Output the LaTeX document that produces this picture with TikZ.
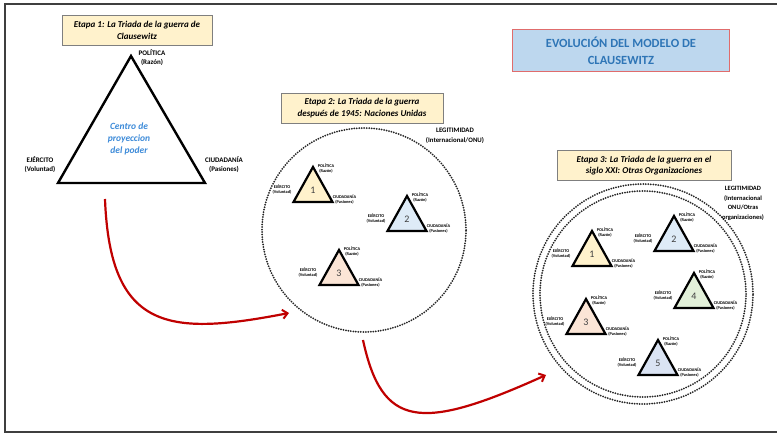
\documentclass[tikz,border=0pt]{standalone}
\usepackage{fontspec}
\setmainfont{Carlito}
\usetikzlibrary{arrows.meta}
\definecolor{boxyellow}{HTML}{FFF2CC}
\definecolor{boxedge}{HTML}{7F7F7F}
\definecolor{titlefill}{HTML}{BDD7EE}
\definecolor{titleedge}{HTML}{E06C6C}
\definecolor{titletext}{HTML}{2E75B6}
\definecolor{centretext}{HTML}{3D8BD9}
\definecolor{tyellow}{HTML}{FFF2CC}
\definecolor{tblue}{HTML}{DEEBF7}
\definecolor{tpeach}{HTML}{FBE5D6}
\definecolor{tgreen}{HTML}{E2F0D9}
\definecolor{tblue2}{HTML}{DAE3F3}
\definecolor{arrowred}{HTML}{C00000}
\definecolor{framegray}{HTML}{3F3F3F}
\tikzset{
  stagebox/.style={draw=boxedge, line width=0.9pt, fill=boxyellow, align=center,
    font=\fontsize{9}{11.5}\selectfont\bfseries\itshape, inner sep=0pt,
    minimum height=30pt},
  biglabel/.style={align=center, font=\fontsize{7}{9.5}\selectfont\bfseries, inner sep=0pt},
  legit/.style={align=center, font=\fontsize{6.8}{9.8}\selectfont\bfseries, inner sep=0pt},
  smalllabel/.style={align=center, font=\fontsize{4.3}{5.6}\selectfont\bfseries, inner sep=0pt},
  numlabel/.style={font=\fontsize{10}{10}\selectfont, text=black!75, inner sep=0pt},
  trisides/.style={draw=black, line width=2.2pt, line join=miter},
  dotring/.style={circle, draw=black!85, line width=2pt, dash pattern=on 0pt off 2.5pt,
    line cap=round, inner sep=0pt},
  flowarrow/.style={draw=arrowred, line width=2.2pt,
    -{Straight Barb[length=5pt,width=9pt,line width=2pt]}},
  pics/triad/.style 2 args={code={
    \coordinate (-a) at (0,0);
    \coordinate (-l) at (-19.5,35);
    \coordinate (-r) at (19.5,35);
    \filldraw[trisides, fill=#1] (-a) -- (-l) -- (-r) -- cycle;
    \node[numlabel] (-n) at (0,23) {#2};
    \node[smalllabel] (-p) at (13,1.5) {POLÍTICA\\(Razón)};
    \node[smalllabel] (-e) at (-31,22.5) {EJÉRCITO\\(Voluntad)};
    \node[smalllabel] (-c) at (31.5,32.5) {CIUDADANÍA\\(Pasiones)};
  }}
}
\begin{document}
\begin{tikzpicture}[x=1pt,y=-1pt]
\useasboundingbox (0,0) rectangle (777,438);
\fill[white] (0,0) rectangle (777,438);

% frame
\draw[framegray, line width=2.2pt] (777,4) -- (5,4) -- (5,432) -- (777,432);

% title
\node[draw=titleedge, line width=1pt, fill=titlefill, minimum width=217pt, minimum height=42pt,
  align=center, font=\fontsize{12.5}{17}\selectfont\bfseries, text=titletext, inner sep=0pt]
  (title) at (621,51) {EVOLUCIÓN DEL MODELO DE\\CLAUSEWITZ};

% stage 1
\node[stagebox, minimum width=150pt] (s1) at (137,30.5) {Etapa 1: La Triada de la guerra de\\Clausewitz};
\coordinate (bA) at (131,56);
\coordinate (bL) at (58,183);
\coordinate (bR) at (205,183);
\draw[trisides, line width=2.4pt] (bA) -- (bL) -- (bR) -- cycle;
\node[biglabel] (bpol) at (152,57.5) {POLÍTICA\\(Razón)};
\node[biglabel] (beje) at (40,164.5) {EJÉRCITO\\(Voluntad)};
\node[biglabel] (bciu) at (224,164.5) {CIUDADANÍA\\(Pasiones)};
\node[align=center, font=\fontsize{9.5}{12}\selectfont\bfseries\itshape, text=centretext, inner sep=0pt]
  (centro) at (129,138.5) {Centro de\\proyeccion\\del poder};

% stage 2
\node[stagebox, minimum width=162pt] (s2) at (362,108) {Etapa 2: La Triada de la guerra\\después de 1945: Naciones Unidas};
\node[dotring, minimum size=204pt] (c2) at (364,230) {};
\node[legit] (l2) at (455,136) {LEGITIMIDAD\\(Internacional/ONU)};
\pic (t21) at (313,167) {triad={tyellow}{1}};
\pic (t22) at (407,196) {triad={tblue}{2}};
\pic (t23) at (339,250) {triad={tpeach}{3}};

% stage 3
\node[stagebox, minimum width=174pt] (s3) at (644,165.5) {Etapa 3: La Triada de la guerra en el\\siglo XXI: Otras Organizaciones};
\node[dotring, minimum size=220pt] (c3o) at (643,294) {};
\node[dotring, minimum size=206pt] (c3i) at (643,294) {};
\node[legit, font=\fontsize{6.5}{9.5}\selectfont\bfseries] (l3) at (743,203.5) {LEGITIMIDAD\\(Internacional\\ONU/Otras\\organizaciones)};
\pic (t31) at (592,231) {triad={tyellow}{1}};
\pic (t32) at (674,216) {triad={tblue}{2}};
\pic (t33) at (586,299) {triad={tpeach}{3}};
\pic (t34) at (694,273) {triad={tgreen}{4}};
\pic (t35) at (658,340) {triad={tblue2}{5}};

% arrows
\coordinate (a1s) at (105,199);
\coordinate (a1e) at (289,313);
\coordinate (a2s) at (363,340);
\coordinate (a2e) at (546,375);
\draw[flowarrow] (a1s) .. controls (110,332) and (170,336) .. (a1e);
\draw[flowarrow] (a2s) .. controls (382,428) and (420,432) .. (a2e);
\end{tikzpicture}
\end{document}
